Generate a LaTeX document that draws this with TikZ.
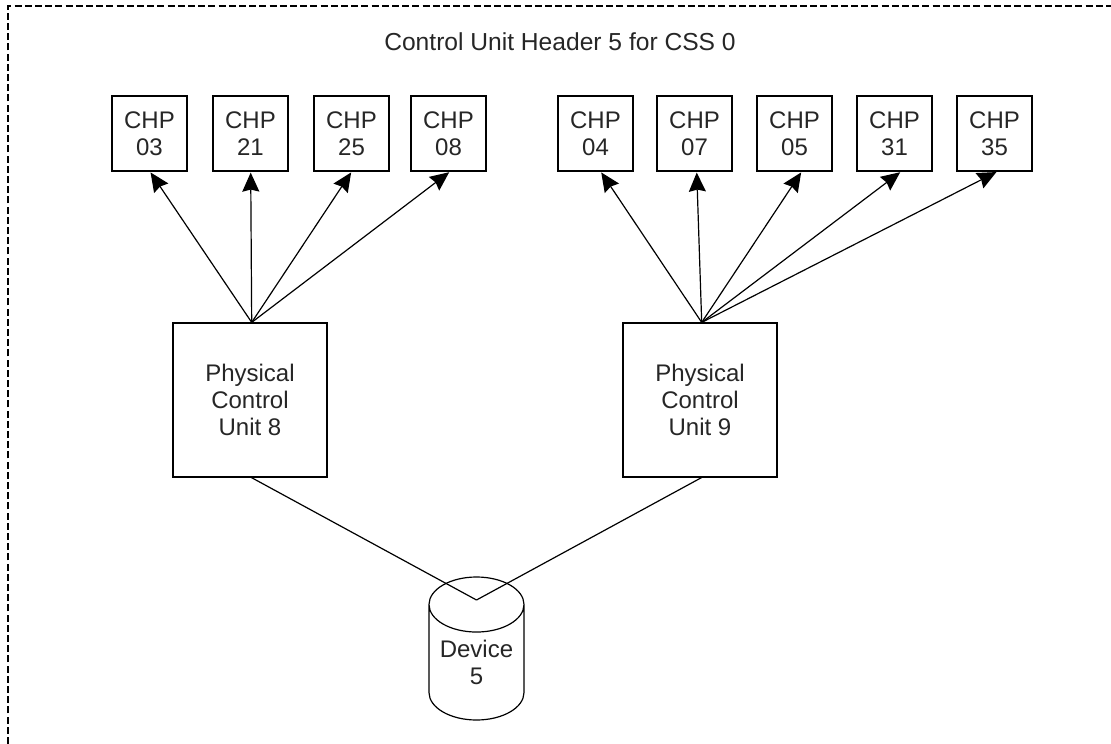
\documentclass[tikz,border=0pt]{standalone}
\usepackage{fontspec}
\setmainfont{Liberation Sans}
\usetikzlibrary{arrows.meta,shapes.geometric}

\begin{document}
\begin{tikzpicture} [
            x=1pt,y=-1pt,
            every node/.style={font=\fontsize{24}{26.8}\selectfont,text=black!85,align=center},
            chp/.style={draw,line width=1.2pt,minimum size=75pt,inner sep=0pt},
            control unit/.style={draw,line width=1.2pt,minimum size=154pt,inner sep=0pt},
            device/.style={draw,line width=1.2pt,cylinder,shape border rotate=90,aspect=0.75,
                minimum width=95pt,minimum height=143pt,inner sep=0pt,anchor=shape center},
            link/.style={draw,line width=1.2pt,-},
            channel/.style={draw,line width=1.2pt,shorten >=1pt,-{Stealth[length=19pt,width=17pt,inset=2pt]}},
            frame/.style={draw,line width=1.2pt,dash pattern=on 7pt off 3.2pt},
        ]
        \useasboundingbox (0,0) rectangle (1111,744);
        % First the dashed frame and its title
        \coordinate (frame bottom) at (8,744);
        \coordinate (frame corner) at (8,6);
        \coordinate (frame right) at (1111,6);
        \path[frame] (frame bottom) -- (frame corner) -- (frame right);
        \node[font=\fontsize{24.6}{26.8}\selectfont] (title) at (560,42) {Control Unit Header 5 for CSS 0};
        % The two control units and the device
        \node[control unit] (pcu8) at (250,400) {Physical\\Control\\Unit 8};
        \node[control unit] (pcu9) at (700,400) {Physical\\Control\\Unit 9};
        \node[device] (dev) at (476.5,648.5) {Device\\5};
        \coordinate (dev top) at (476.5,600);
        % The channel path boxes
        \foreach \pos/\name/\unit/\tip in {
                {149.5/03/pcu8/0.5},
                {250.5/21/pcu8/0.2},
                {351.5/25/pcu8/0.2},
                {448.5/08/pcu8/1.5},
                {595.5/04/pcu9/5.2},
                {694.5/07/pcu9/2.2},
                {794.5/05/pcu9/7.2},
                {894.5/31/pcu9/6.5},
                {994.5/35/pcu9/2.8}}
            {
            \node[chp] (c\name) at (\pos,133.5) {CHP\\\name};
            \path[channel] ([xshift=1.7pt]\unit.north) -- ([xshift=\tip pt]c\name.south);
            }
        % Connect units with the device
        \foreach \source in {pcu8,pcu9}
            \path[link] ([xshift=1.5pt]\source.south) -- (dev top);
    \end{tikzpicture}
\end{document}
